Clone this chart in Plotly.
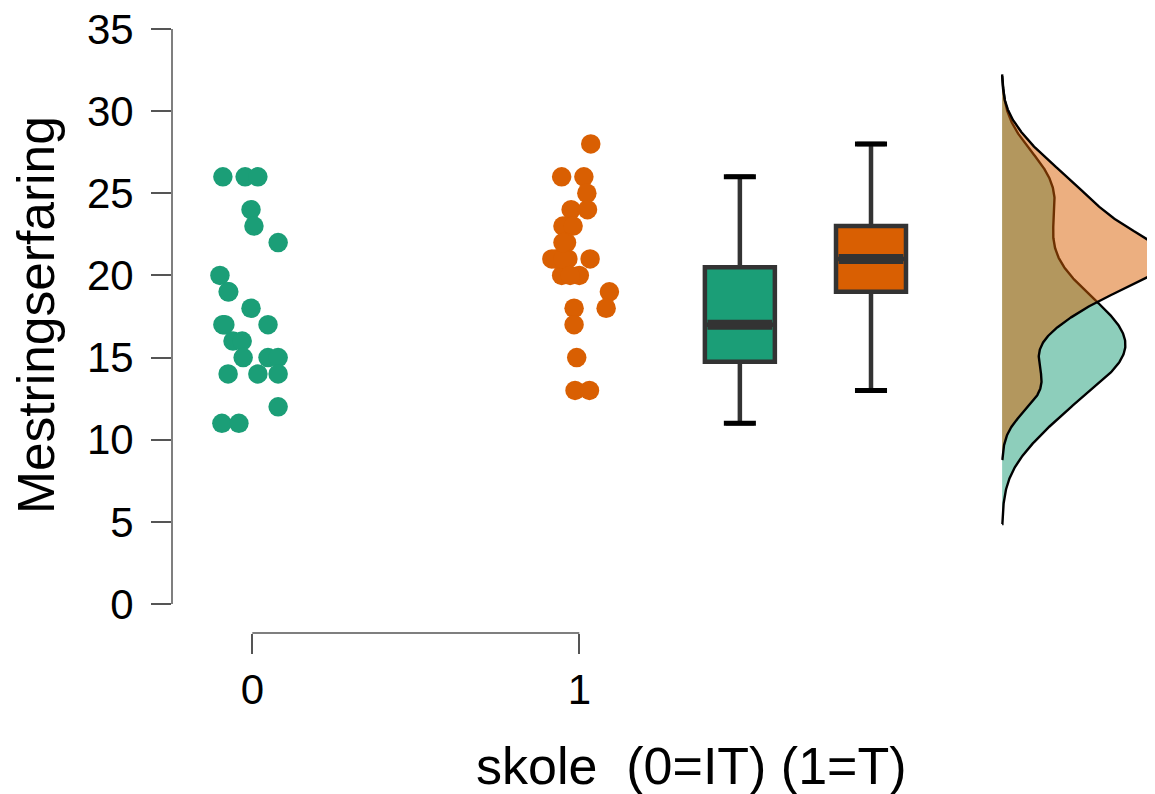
import numpy as np
import plotly.graph_objects as go

# ---------------- data ----------------
group_labels = ["0", "1"]
group_pos = [0, 1]
colors = ["#1b9e77", "#d95f02"]
fill_rgba = ["rgba(27,158,119,0.5)", "rgba(217,95,2,0.5)"]

# Mestringserfaring, skole = 0 (IT)
green_values = [26, 26, 26, 24, 23, 22, 20, 19, 18, 17, 17, 16, 16, 15, 15, 15, 14, 14, 14, 12, 11, 11,
                17, 19]
green_jitter = [-0.090, -0.022, 0.017, -0.004, 0.005, 0.079, -0.099, -0.074, -0.004, -0.090, 0.048,
                -0.059, -0.031, -0.028, 0.048, 0.079, -0.074, 0.017, 0.079, 0.079, -0.093, -0.041,
                -0.084, -0.072]

# Mestringserfaring, skole = 1 (T)
orange_values = [28, 26, 26, 25, 24, 24, 23, 23, 22, 21, 21, 21, 20, 20, 19, 18, 18, 17, 15, 13, 13,
                 21, 21, 20, 22]
orange_jitter = [0.035, -0.054, 0.014, 0.023, -0.025, 0.025, -0.050, -0.019, -0.039, -0.084, -0.035,
                 0.033, -0.054, 0.000, 0.092, -0.016, 0.082, -0.016, -0.008, -0.013, 0.031,
                 -0.072, -0.050, -0.028, -0.050]

y_ticks = [0, 5, 10, 15, 20, 25, 30, 35]
y_title = "Mestringserfaring"
x_title = "skole  (0=IT) (1=T)"

# ---------------- layout constants ----------------
box_pos = [1.491, 1.892]
box_width = 0.214
cap_width = 0.098
density_base = 2.293
density_width = 0.377
FONT = "Liberation Sans, Arial, sans-serif"

all_values = [green_values, orange_values]
all_jitter = [green_jitter, orange_jitter]


def kde(vals):
    v = np.asarray(vals, dtype=float)
    n = len(v)
    iqr = np.percentile(v, 75) - np.percentile(v, 25)
    bw = 0.9 * min(v.std(ddof=1), iqr / 1.34) * n ** (-0.2)
    grid = np.linspace(v.min() - 3 * bw, v.max() + 3 * bw, 512)
    d = np.exp(-0.5 * ((grid[:, None] - v[None, :]) / bw) ** 2).sum(axis=1) / (n * bw * np.sqrt(2 * np.pi))
    return grid, d


def box_stats(vals):
    v = np.asarray(vals, dtype=float)
    q1, med, q3 = np.percentile(v, [25, 50, 75])
    iqr = q3 - q1
    lo = v[v >= q1 - 1.5 * iqr].min()
    hi = v[v <= q3 + 1.5 * iqr].max()
    return q1, med, q3, lo, hi


dens = [kde(v) for v in all_values]
scale = density_width / dens[0][1].max()

fig = go.Figure()

# densities (green first, orange on top)
for i, (grid, d) in enumerate(dens):
    xs = np.concatenate([[density_base], density_base + scale * d, [density_base]])
    ys = np.concatenate([[grid[0]], grid, [grid[-1]]])
    fig.add_trace(go.Scatter(x=xs, y=ys, mode="lines", fill="toself",
                             fillcolor=fill_rgba[i], line=dict(color="black", width=2.4),
                             hoverinfo="skip", showlegend=False))

# boxplots
for i in range(2):
    q1, med, q3, lo, hi = box_stats(all_values[i])
    fig.add_trace(go.Box(x=[box_pos[i]], q1=[q1], median=[med], q3=[q3],
                         lowerfence=[lo], upperfence=[hi],
                         width=box_width, whiskerwidth=0.4, fillcolor=colors[i],
                         line=dict(color="#333333", width=4.5), boxpoints=False,
                         showlegend=False))
    # thick median band
    fig.add_trace(go.Scatter(x=[box_pos[i] - box_width / 2 + 0.008, box_pos[i] + box_width / 2 - 0.008],
                             y=[med, med], mode="lines",
                             line=dict(color="#333333", width=10), showlegend=False, hoverinfo="skip"))
    # whisker caps
    for yv in (lo, hi):
        fig.add_trace(go.Scatter(x=[box_pos[i] - cap_width / 2, box_pos[i] + cap_width / 2],
                                 y=[yv, yv], mode="lines",
                                 line=dict(color="black", width=5), showlegend=False, hoverinfo="skip"))

# points
for i in range(2):
    xs = [group_pos[i] + j for j in all_jitter[i]]
    fig.add_trace(go.Scatter(x=xs, y=all_values[i], mode="markers",
                             marker=dict(color=colors[i], size=19.5, line=dict(width=0)),
                             showlegend=False))

# the page body has an 8px margin, so the figure is laid out 8px smaller
W, H = 1147, 786
ml, mr, mt, mb = 164, 0, 0, 161
PW, PH = W - ml - mr, H - mt - mb

fig.update_layout(
    width=W, height=H,
    margin=dict(l=ml, r=mr, t=mt, b=mb, autoexpand=False),
    paper_bgcolor="white", plot_bgcolor="white",
    font=dict(family=FONT, color="black"),
    xaxis=dict(range=[-0.2456, 2.7605], tickvals=group_pos, ticktext=group_labels,
               showgrid=False, zeroline=False, showline=False, automargin=False,
               ticks="outside", ticklen=20, tickwidth=1.5, tickcolor="#555555",
               ticklabeloverflow="allow",
               tickfont=dict(size=42, family=FONT, color="black")),
    yaxis=dict(range=[-1.765, 36.275], tickvals=y_ticks, ticktext=[str(t) for t in y_ticks],
               showgrid=False, zeroline=False, showline=False, automargin=False,
               ticks="outside", ticklen=20, tickwidth=1.5, tickcolor="#555555",
               ticklabelstandoff=9, ticklabeloverflow="allow",
               tickfont=dict(size=42, family=FONT, color="black")),
    shapes=[
        dict(type="line", xref="paper", yref="y", x0=0, x1=0, y0=y_ticks[0], y1=y_ticks[-1],
             line=dict(color="#555555", width=1.5)),
        dict(type="line", xref="x", yref="paper", x0=group_pos[0], x1=group_pos[-1], y0=0, y1=0,
             line=dict(color="#555555", width=1.5)),
    ],
    annotations=[
        dict(text=y_title, textangle=-90, xref="paper", yref="paper",
             x=(28 - ml) / PW, y=(PH - 307) / PH, xanchor="center", yanchor="middle",
             showarrow=False, font=dict(size=51.5, family=FONT, color="black")),
        dict(text=x_title, xref="paper", yref="paper",
             x=(683.5 - ml) / PW, y=(PH - 758) / PH,
             xanchor="center", yanchor="middle",
             showarrow=False, font=dict(size=52, family=FONT, color="black")),
    ],
)

fig.write_html("out.html")
